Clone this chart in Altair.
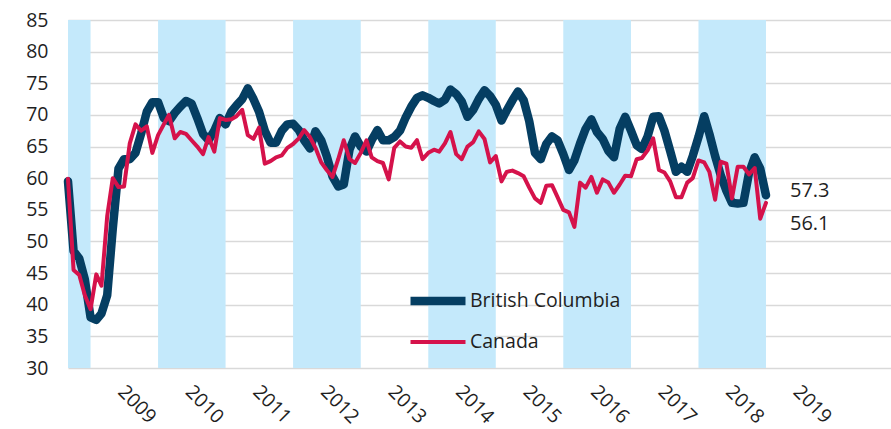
import altair as alt
import pandas as pd

# Monthly index readings, Sep 2008 .. Jan 2019
months = pd.date_range("2008-09-01", periods=125, freq="MS").strftime("%Y-%m-%d").tolist()

british_columbia = [
    59.5, 48.5, 47.3, 44.0, 38.0, 37.6, 38.6, 41.5, 52.0, 61.5,
    63.0, 63.0, 64.0, 67.0, 70.5, 72.0, 72.0, 69.5, 69.0, 70.3,
    71.3, 72.2, 71.8, 69.5, 67.0, 66.0, 67.5, 69.5, 68.5, 70.5,
    71.5, 72.5, 74.2, 72.5, 70.5, 67.5, 65.6, 65.6, 67.5, 68.5,
    68.6, 67.6, 66.0, 64.7, 67.4, 66.0, 63.5, 60.3, 58.7, 59.0,
    64.5, 66.6, 65.0, 64.2, 66.0, 67.6, 66.0, 66.0, 66.5, 67.5,
    69.6, 71.3, 72.7, 73.1, 72.7, 72.2, 71.8, 72.4, 74.0, 73.3,
    72.1, 69.7, 70.8, 72.5, 73.9, 73.0, 71.6, 69.1, 70.7, 72.3,
    73.7, 72.3, 69.0, 64.0, 63.0, 65.4, 66.6, 66.0, 63.8, 61.3,
    62.8, 65.5, 67.8, 69.3, 67.3, 66.2, 64.3, 63.3, 67.8, 69.7,
    67.5, 65.2, 64.6, 66.6, 69.7, 69.8, 67.5, 64.3, 61.0, 61.8,
    61.0, 63.5, 66.5, 69.8, 67.0, 63.5, 60.5, 58.0, 56.1, 56.0,
    56.1, 60.8, 63.3, 61.5, 57.3,
]

canada = [
    59.9, 45.5, 44.7, 41.5, 39.3, 44.8, 43.0, 54.0, 60.0, 58.6,
    58.7, 65.5, 68.5, 67.5, 68.2, 64.0, 66.8, 68.5, 70.0, 66.3,
    67.3, 67.0, 66.0, 65.0, 63.8, 66.5, 64.2, 69.5, 69.2, 69.3,
    69.8, 70.8, 66.8, 66.2, 68.0, 62.3, 62.7, 63.3, 63.6, 64.8,
    65.4, 66.3, 67.6, 66.5, 64.8, 62.5, 61.3, 60.2, 63.0, 66.0,
    63.0, 62.4, 64.0, 66.0, 63.3, 62.7, 62.4, 59.8, 64.8, 65.8,
    65.0, 64.8, 66.0, 63.0, 64.0, 64.5, 64.2, 65.5, 67.3, 63.8,
    63.0, 65.0, 65.7, 67.4, 66.2, 62.5, 63.5, 59.5, 61.0, 61.2,
    60.8, 60.3, 58.5, 56.8, 56.1, 58.8, 58.9, 57.0, 55.0, 54.6,
    52.3, 59.3, 58.5, 60.2, 57.7, 59.8, 59.3, 57.7, 59.0, 60.4,
    60.3, 63.0, 63.2, 64.4, 66.3, 61.3, 60.9, 59.5, 57.0, 57.0,
    59.3, 60.0, 62.8, 62.5, 61.0, 56.6, 62.6, 62.3, 56.8, 61.8,
    61.8, 60.6, 61.6, 53.6, 56.1,
]

series_names = ["British Columbia", "Canada"]
band_years = [2008, 2010, 2012, 2014, 2016, 2018]
label_years = list(range(2009, 2020))
y_ticks = list(range(30, 90, 5))

NAVY = "#053E62"
RED = "#D5124B"
BAND = "#C4E9FB"
GRID = "#D9D9D9"
TEXT = "#1F1F1F"
FONT = "Open Sans"
FS = 19.5

lines = pd.DataFrame({
    "date": months * 2,
    "value": british_columbia + canada,
    "series": [series_names[0]] * len(months) + [series_names[1]] * len(months),
})
bands = pd.DataFrame({
    "start": [f"{y}-01-01" for y in band_years],
    "end": [f"{y + 1}-01-01" for y in band_years],
})
ends = pd.DataFrame({
    "date": [months[-1]] * 2,
    "value": [british_columbia[-1], canada[-1]],
    "series": series_names,
})

x_scale = alt.Scale(
    type="utc",
    domain=[alt.DateTime(year=2008, month=9, date=1, utc=True),
            alt.DateTime(year=2020, month=11, date=7, utc=True)],
)
x_axis = alt.Axis(
    values=[alt.DateTime(year=y, month=7, date=1, utc=True) for y in label_years],
    labelExpr="utcFormat(datum.value, '%Y')",
    labelAngle=45, labelAlign="left", labelBaseline="top",
    labelPadding=14, labelOffset=3, labelFontSize=FS, labelFont=FONT, labelColor=TEXT,
    domain=False, ticks=False, grid=False, title=None,
)
y_scale = alt.Scale(domain=[30, 85], nice=False, zero=False)
y_axis = alt.Axis(
    values=y_ticks, grid=True, gridColor=GRID, gridWidth=1.5,
    domain=False, ticks=False, labelPadding=20, labelFontSize=FS,
    labelFont=FONT, labelColor=TEXT, title=None,
)

legend = alt.Legend(
    orient="none", legendX=338, legendY=271, title=None,
    symbolType="stroke", symbolSize=3025, clipHeight=20,
    rowPadding=21, labelOffset=0, padding=0,
    labelFontSize=FS, labelFont=FONT, labelColor=TEXT,
)

band_layer = alt.Chart(bands).mark_rect(color=BAND, clip=True).encode(
    x=alt.X("start:T", scale=x_scale, axis=x_axis),
    x2="end:T",
)

line_layer = alt.Chart(lines).mark_line(strokeCap="round", strokeJoin="round").encode(
    x=alt.X("date:T", scale=x_scale, axis=x_axis),
    y=alt.Y("value:Q", scale=y_scale, axis=y_axis),
    color=alt.Color(
        "series:N",
        scale=alt.Scale(domain=series_names, range=[NAVY, RED]),
        legend=legend,
    ),
    strokeWidth=alt.StrokeWidth(
        "series:N",
        scale=alt.Scale(type="ordinal", domain=series_names, range=[8.5, 4]),
        legend=legend,
    ),
)

def end_label(name, dy):
    return alt.Chart(ends).transform_filter(
        alt.datum.series == name
    ).mark_text(
        align="left", baseline="middle", dx=24, dy=dy,
        fontSize=20, font=FONT, color=TEXT,
    ).encode(
        x=alt.X("date:T", scale=x_scale, axis=x_axis),
        y=alt.Y("value:Q", scale=y_scale, axis=y_axis),
        text=alt.Text("value:Q", format=".1f"),
    )

chart = alt.layer(
    band_layer, line_layer, end_label(series_names[0], -4), end_label(series_names[1], 21)
).properties(
    width=823, height=348,
    padding={"left": 68, "top": 20, "right": 0, "bottom": 61},
    autosize=alt.AutoSizeParams(type="none"),
    background="white",
).configure_view(stroke=None)

chart.save("out.html", embed_options={"renderer": "svg", "actions": False})
